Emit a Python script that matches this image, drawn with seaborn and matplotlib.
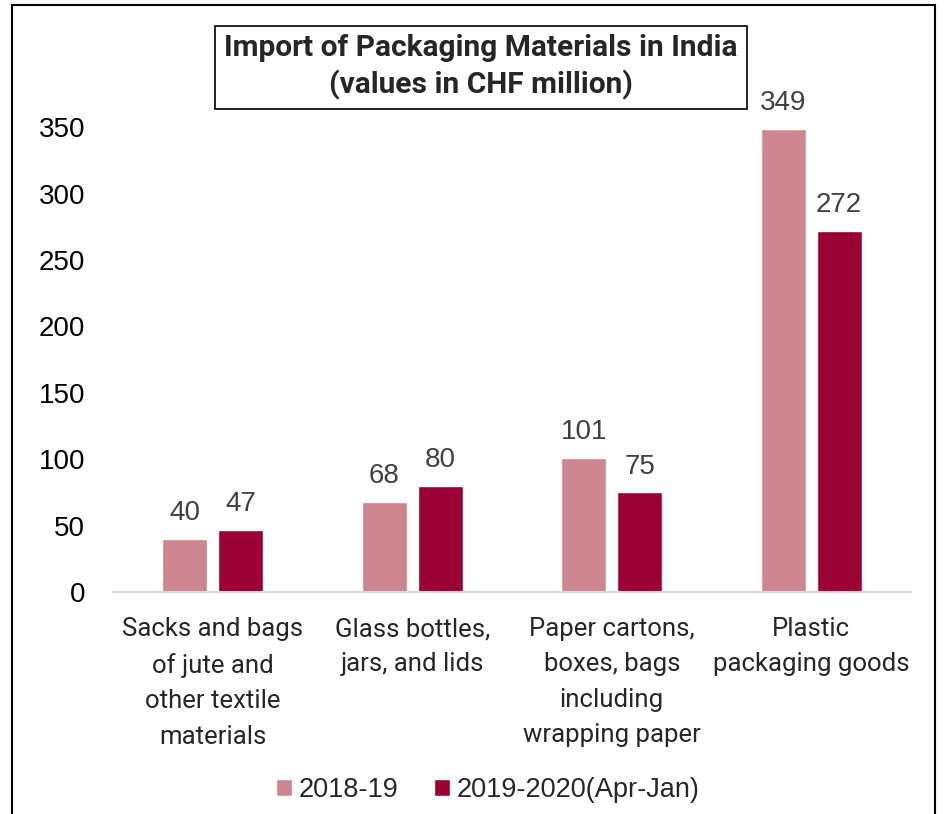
import matplotlib
matplotlib.use("Agg")
import matplotlib.pyplot as plt
from matplotlib.patches import Rectangle
import seaborn as sns
import pandas as pd

categories = [
    "Sacks and bags\nof jute and\nother textile\nmaterials",
    "Glass bottles,\njars, and lids",
    "Paper cartons,\nboxes, bags\nincluding\nwrapping paper",
    "Plastic\npackaging goods",
]
series_names = ["2018-19", "2019-2020(Apr-Jan)"]
values_2018 = [40, 68, 101, 349]
values_2019 = [47, 80, 75, 272]
y_ticks = [0, 50, 100, 150, 200, 250, 300, 350]

df = pd.DataFrame({
    "category": categories * 2,
    "period": [series_names[0]] * 4 + [series_names[1]] * 4,
    "value": values_2018 + values_2019,
})

sns.set_theme(style="white")
plt.rcParams["font.family"] = ["Liberation Sans", "DejaVu Sans"]
narrow = ["Roboto", "DejaVu Sans"]

colors = ["#CD8690", "#9B0034"]

fig = plt.figure(figsize=(9.44, 8.14), dpi=100)
W, H = 944, 814
ax = fig.add_axes([113 / W, 1 - 592 / H, (911 - 113) / W, (592 - 61) / H])

sns.barplot(data=df, x="category", y="value", hue="period",
            palette=colors, width=0.56, gap=0.2, ax=ax,
            saturation=1, legend=True)

ax.set_ylim(0, 400)
ax.set_xlim(-0.5, 3.5)
ax.set_yticks(y_ticks)
ax.set_yticklabels([str(t) for t in y_ticks], fontsize=20, color="#000000")
ax.tick_params(axis="y", length=0, pad=20)
ax.tick_params(axis="x", length=0, pad=18)
for lbl in ax.get_xticklabels():
    lbl.set_fontfamily(narrow)
    lbl.set_fontsize(18.5)
    lbl.set_linespacing(1.6)
ax.set_xlabel("")
ax.set_ylabel("")

for side in ["left", "right", "top"]:
    ax.spines[side].set_visible(False)
ax.spines["bottom"].set_color("#D9D9D9")
ax.spines["bottom"].set_linewidth(1.5)

for cont in ax.containers:
    ax.bar_label(cont, fmt="%d", padding=9, fontsize=20, color="#404040")

handles, labels = ax.get_legend_handles_labels()
ax.legend_.remove()
fig.legend(handles, labels, loc="center", bbox_to_anchor=(488 / W, 1 - 790 / H),
           ncol=2, frameon=False, fontsize=19.5, handlelength=0.6, handleheight=0.6,
           handletextpad=0.25, columnspacing=1.3)

fig.text(481 / W, 1 - 67 / H,
         "Import of Packaging Materials in India\n(values in CHF million)",
         ha="center", va="center", fontsize=21.5, fontweight="bold",
         family=narrow, linespacing=1.3,
         bbox=dict(boxstyle="square,pad=0.3", facecolor="white",
                   edgecolor="black", linewidth=1.2))

fig.patches.append(Rectangle((12 / W, -0.05), (935 - 12) / W, 1.05 - 5 / H,
                             transform=fig.transFigure, fill=False,
                             edgecolor="black", linewidth=1.5))

fig.savefig("out.png", dpi=100)
